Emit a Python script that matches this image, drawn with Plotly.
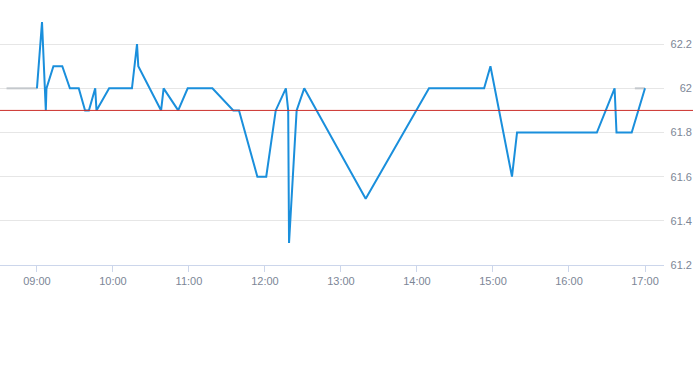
import plotly.graph_objects as go

day = "2024-01-02 "
times = ["09:00", "09:04", "09:07", "09:07:30", "09:13", "09:20", "09:26", "09:33", "09:38", "09:41",
         "09:46", "09:47", "09:57", "10:15", "10:19", "10:20", "10:38", "10:40", "10:51:30", "10:59",
         "11:18:30", "11:35", "11:39:30", "11:54", "12:01", "12:08:30", "12:16:30", "12:18:20", "12:19", "12:25",
         "12:31", "13:19:30", "14:09:30", "14:53", "14:58", "15:15", "15:19", "16:22", "16:36", "16:37:30",
         "16:49:30", "17:00"]
prices = [62.0, 62.3, 61.9, 62.0, 62.1, 62.1, 62.0, 62.0, 61.9, 61.9,
          62.0, 61.9, 62.0, 62.0, 62.2, 62.1, 61.9, 62.0, 61.9, 62.0,
          62.0, 61.9, 61.9, 61.6, 61.6, 61.9, 62.0, 61.9, 61.3, 61.9,
          62.0, 61.5, 62.0, 62.0, 62.1, 61.6, 61.8, 61.8, 62.0, 61.8,
          61.8, 62.0]

grey_times = ["08:36", "09:00", None, "16:52", "17:00"]
grey_prices = [62.0, 62.0, None, 62.0, 62.0]

prev_close = 61.9
x_range = ["08:30:50", "17:15"]
y_ticks = [61.2, 61.4, 61.6, 61.8, 62.0, 62.2]
y_tick_text = ["61.2", "61.4", "61.6", "61.8", "62", "62.2"]
x_ticks = ["09:00", "10:00", "11:00", "12:00", "13:00", "14:00", "15:00", "16:00", "17:00"]

def ts(t):
    return None if t is None else day + (t if t.count(":") == 2 else t + ":00")

fig = go.Figure()
fig.add_trace(go.Scatter(x=[ts(t) for t in grey_times], y=grey_prices, mode="lines",
                         line=dict(color="#c4c8cc", width=2), connectgaps=False, hoverinfo="skip"))
fig.add_trace(go.Scatter(x=[ts(t) for t in times], y=prices, mode="lines",
                         line=dict(color="#1a8fdc", width=2)))
fig.add_shape(type="line", xref="paper", x0=0, x1=1, yref="y", y0=prev_close, y1=prev_close,
              line=dict(color="#cc2f2a", width=1))

label_font = dict(family="Liberation Sans, Arial, sans-serif", size=11, color="#7c8696")
fig.update_layout(
    width=693, height=365,
    margin=dict(l=0, r=0, t=0, b=100),
    paper_bgcolor="white", plot_bgcolor="white",
    showlegend=False,
    xaxis=dict(type="date", domain=[0, 664 / 693], range=[ts(x_range[0]), ts(x_range[1])],
               tickvals=[ts(t) for t in x_ticks], ticktext=x_ticks,
               showgrid=False, zeroline=False,
               showline=True, linecolor="#ccd6eb", linewidth=1,
               ticks="outside", ticklen=6, tickcolor="#ccd6eb",
               tickfont=label_font),
    yaxis=dict(range=[61.2, 62.4], tickvals=y_ticks, ticktext=y_tick_text,
               anchor="free", position=1.0, side="left",
               showgrid=True, gridcolor="#e6e6e6", gridwidth=1,
               zeroline=False, showline=False, ticks="",
               tickfont=label_font, ticklabelstandoff=1),
)
fig.write_html("out.html")
